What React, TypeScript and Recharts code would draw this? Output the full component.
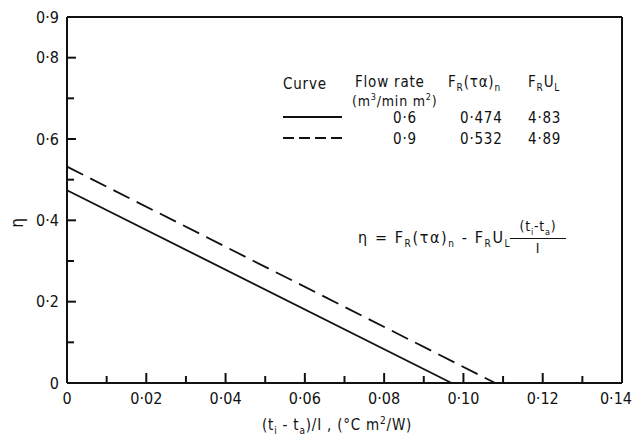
import React from 'react';
import { LineChart, Line, XAxis, YAxis, ReferenceLine } from 'recharts';

// axis ticks (minor every 0.01 / 0.1, labels on every other one)
const xTicks = [0, 0.01, 0.02, 0.03, 0.04, 0.05, 0.06, 0.07, 0.08, 0.09, 0.1, 0.11, 0.12, 0.13, 0.14];
const yTicks = [0, 0.1, 0.2, 0.3, 0.4, 0.5, 0.6, 0.7, 0.8, 0.9];
const xLabelled = [0, 0.02, 0.04, 0.06, 0.08, 0.1, 0.12, 0.14];
const yLabelled = [0, 0.2, 0.4, 0.6, 0.8, 0.9];
const xDomain = [0, 0.14];
const yDomain = [0, 0.9];

// the two efficiency lines
const solidX = [0, 0.097];
const solidY = [0.474, 0];
const dashedX = [0, 0.108];
const dashedY = [0.532, 0];

// table in the top right
const flowRates = ['0·6', '0·9'];
const frTauAlpha = ['0·474', '0·532'];
const frUl = ['4·83', '4·89'];

const solidData = solidX.map((x, i) => ({ x, eta: solidY[i] }));
const dashedData = dashedX.map((x, i) => ({ x, eta: dashedY[i] }));

const INK = '#111111';
const FONT = '"DejaVu Sans Condensed", "Liberation Sans Narrow", "DejaVu Sans", sans-serif';

const fmt = (v: number, digits: number) => (v === 0 ? '0' : v.toFixed(digits).replace('.', '·'));
const has = (list: number[], v: number) => list.some((t) => Math.abs(t - v) < 1e-9);

const BottomTick = (props: any) => {
  const { x, y, payload } = props;
  const major = has(xLabelled, payload.value);
  const last = payload.value === 0.14;
  return (
    <g>
      <line x1={x} x2={x} y1={y} y2={y - (major ? 10 : 7)} stroke={INK} strokeWidth={2} />
      {major && (
        <text
          x={last ? x + 10 : x}
          y={y + 10}
          dy="0.71em"
          textAnchor={last ? 'end' : 'middle'}
          fill={INK}
          fontSize={16}
          fontFamily={FONT}
        >
          {fmt(payload.value, 2)}
        </text>
      )}
    </g>
  );
};

const LeftTick = (props: any) => {
  const { x, y, payload } = props;
  const major = has(yLabelled, payload.value);
  return (
    <g>
      <line x1={x} x2={x + (major ? 9 : 7)} y1={y} y2={y} stroke={INK} strokeWidth={2} />
      {major && (
        <text x={x - 8} y={y} dy="0.35em" textAnchor="end" fill={INK} fontSize={16} fontFamily={FONT}>
          {fmt(payload.value, 1)}
        </text>
      )}
    </g>
  );
};

const txt: React.CSSProperties = {
  position: 'absolute',
  fontFamily: FONT,
  fontSize: 15,
  color: INK,
  whiteSpace: 'nowrap',
  lineHeight: 1,
  letterSpacing: 0.8,
};

const sub = { fontSize: 10 };

const App = () => {
  return (
    <div style={{ position: 'absolute', left: 0, top: 0 }}>
      <LineChart width={633} height={436} margin={{ top: 17, right: 11, bottom: 13, left: 27 }}>
        <XAxis
          xAxisId="b"
          dataKey="x"
          type="number"
          domain={xDomain}
          ticks={xTicks}
          height={40}
          tickSize={0}
          tickMargin={0}
          tickLine={false}
          axisLine={false}
          tick={<BottomTick />}
          interval={0}
        />
        <YAxis
          yAxisId="l"
          type="number"
          domain={yDomain}
          ticks={yTicks}
          width={40}
          tickSize={0}
          tickMargin={0}
          tickLine={false}
          axisLine={false}
          tick={<LeftTick />}
          interval={0}
        />
        {/* frame */}
        <ReferenceLine xAxisId="b" yAxisId="l" x={xDomain[0]} stroke={INK} strokeWidth={2} ifOverflow="visible" />
        <ReferenceLine xAxisId="b" yAxisId="l" x={xDomain[1]} stroke={INK} strokeWidth={2} ifOverflow="visible" />
        <ReferenceLine xAxisId="b" yAxisId="l" y={yDomain[0]} stroke={INK} strokeWidth={2} ifOverflow="visible" />
        <ReferenceLine xAxisId="b" yAxisId="l" y={yDomain[1]} stroke={INK} strokeWidth={2} ifOverflow="visible" />
        <Line
          xAxisId="b"
          yAxisId="l"
          data={solidData}
          dataKey="eta"
          type="linear"
          stroke={INK}
          strokeWidth={1.8}
          dot={false}
          isAnimationActive={false}
        />
        <Line
          xAxisId="b"
          yAxisId="l"
          data={dashedData}
          dataKey="eta"
          type="linear"
          stroke={INK}
          strokeWidth={1.8}
          strokeDasharray="18 8"
          dot={false}
          isAnimationActive={false}
        />
      </LineChart>

      {/* y axis title */}
      <div style={{ ...txt, left: 12, top: 214, fontSize: 17, transform: 'rotate(-90deg)' }}>η</div>

      {/* x axis title */}
      <div style={{ ...txt, left: 262, top: 416, fontSize: 15 }}>
        (t<sub style={sub}>i</sub> - t<sub style={sub}>a</sub>)/I , (°C m<sup style={sub}>2</sup>/W)
      </div>

      {/* table */}
      <div style={{ ...txt, left: 283, top: 77 }}>Curve</div>
      <div style={{ ...txt, left: 355, top: 75 }}>Flow rate</div>
      <div style={{ ...txt, left: 352, top: 93, fontSize: 14 }}>
        (m<sup style={{ fontSize: 9 }}>3</sup>/min m<sup style={{ fontSize: 9 }}>2</sup>)
      </div>
      <div style={{ ...txt, left: 448, top: 75 }}>
        F<sub style={sub}>R</sub>(τα)<sub style={sub}>n</sub>
      </div>
      <div style={{ ...txt, left: 528, top: 75 }}>
        F<sub style={sub}>R</sub>U<sub style={sub}>L</sub>
      </div>
      <svg style={{ position: 'absolute', left: 283, top: 110 }} width={60} height={32}>
        <line x1={0} x2={59} y1={7} y2={7} stroke={INK} strokeWidth={1.8} />
        <line x1={0} x2={59} y1={28} y2={28} stroke={INK} strokeWidth={1.8} strokeDasharray="11 5" />
      </svg>
      {flowRates.map((f, i) => (
        <div key={'f' + i} style={{ ...txt, left: 393, top: 111 + i * 21 }}>{f}</div>
      ))}
      {frTauAlpha.map((f, i) => (
        <div key={'t' + i} style={{ ...txt, left: 460, top: 111 + i * 21 }}>{f}</div>
      ))}
      {frUl.map((f, i) => (
        <div key={'u' + i} style={{ ...txt, left: 528, top: 111 + i * 21 }}>{f}</div>
      ))}

      {/* equation */}
      <div style={{ ...txt, left: 358, top: 230, fontSize: 16, letterSpacing: 1.6 }}>
        η = F<sub style={sub}>R</sub>(τα)<sub style={sub}>n</sub> - F<sub style={sub}>R</sub>U
        <sub style={sub}>L</sub>
      </div>
      <div style={{ ...txt, left: 510, top: 219, fontSize: 14, textAlign: 'center', width: 56 }}>
        <div style={{ borderBottom: `1.5px solid ${INK}`, paddingBottom: 1 }}>
          (t<sub style={{ fontSize: 9 }}>i</sub>-t<sub style={{ fontSize: 9 }}>a</sub>)
        </div>
        <div style={{ paddingTop: 2 }}>I</div>
      </div>
    </div>
  );
};

export default App;
